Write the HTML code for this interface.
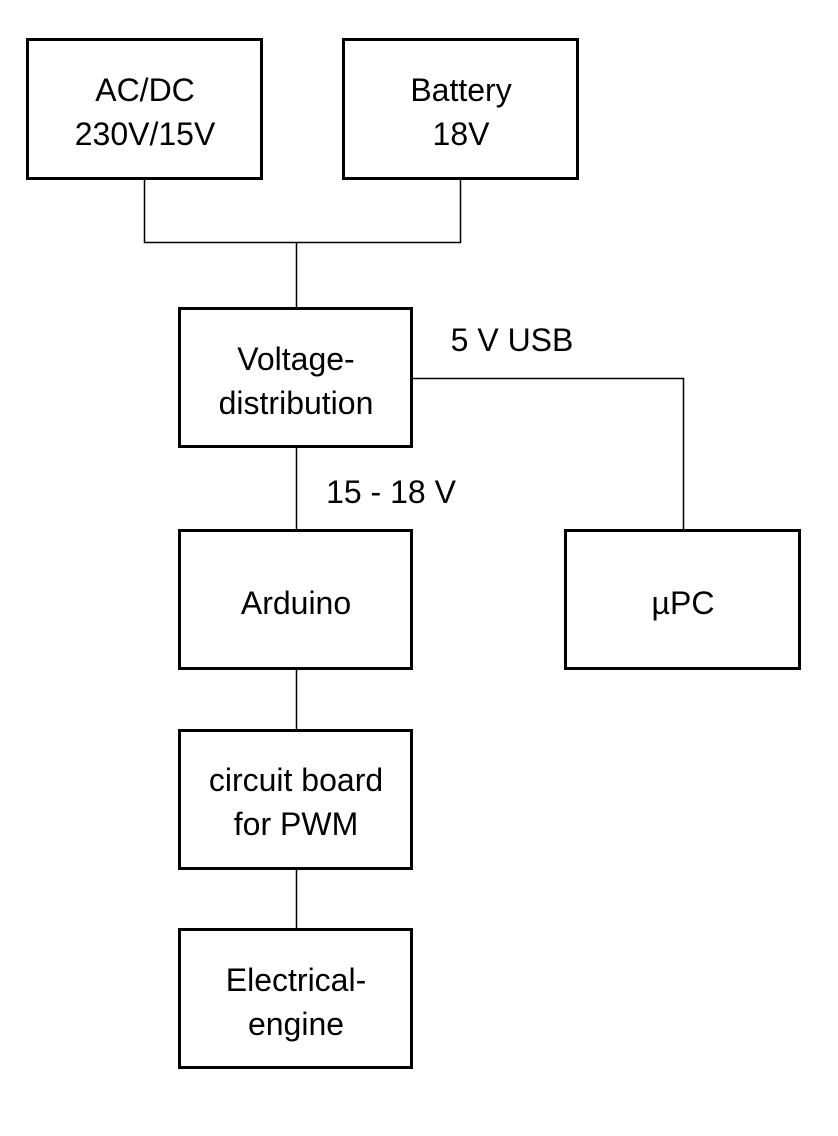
<!DOCTYPE html>
<html><head><style>
html,body{margin:0;padding:0;background:#fff;}
text{font-family:"Liberation Sans",sans-serif;font-size:32px;fill:#000;}
</style></head><body>
<svg width="838" height="1131" xmlns="http://www.w3.org/2000/svg">
<g fill="none" stroke="#000" stroke-width="1.5">
<polyline points="144.5,180 144.5,242.5 460.5,242.5 460.5,180"/>
<line x1="296.5" y1="242.5" x2="296.5" y2="308"/>
<polyline points="412,378.5 683.5,378.5 683.5,530"/>
<line x1="296.5" y1="447" x2="296.5" y2="530"/>
<line x1="296.5" y1="669" x2="296.5" y2="730"/>
<line x1="296.5" y1="869" x2="296.5" y2="929"/>
</g>
<g fill="#fff" stroke="#000" stroke-width="3">
<rect x="27.5" y="39.5" width="234" height="139"/>
<rect x="343.5" y="39.5" width="234" height="139"/>
<rect x="179.5" y="308.5" width="232" height="138"/>
<rect x="179.5" y="530.5" width="232" height="138"/>
<rect x="565.5" y="530.5" width="234" height="138"/>
<rect x="179.5" y="730.5" width="232" height="138"/>
<rect x="179.5" y="929.5" width="232" height="138"/>
</g>
<g text-anchor="middle">
<text x="145" y="101">AC/DC</text>
<text x="145" y="145">230V/15V</text>
<text x="461" y="101">Battery</text>
<text x="461" y="145">18V</text>
<text x="296" y="370">Voltage-</text>
<text x="296" y="414">distribution</text>
<text x="296" y="614">Arduino</text>
<text x="683" y="614">µPC</text>
<text x="296" y="791">circuit board</text>
<text x="296" y="835">for PWM</text>
<text x="296" y="991">Electrical-</text>
<text x="296" y="1035">engine</text>
<text x="512" y="351">5 V USB</text>
<text x="391" y="503">15 - 18 V</text>
</g>
</svg>
</body></html>
